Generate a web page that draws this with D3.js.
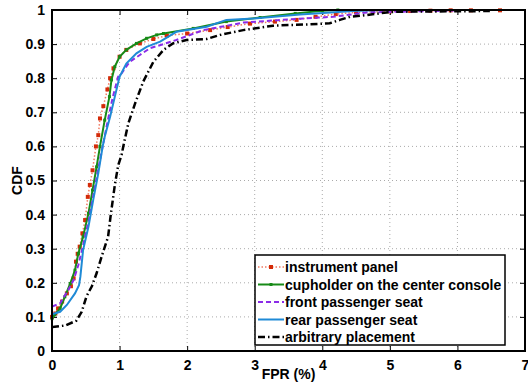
<!DOCTYPE html>
<html>
<head>
<meta charset="utf-8">
<script src="https://cdn.jsdelivr.net/npm/d3@7"></script>
<style>
	body { margin: 0; background: #fff; }
	text { font-family: "Liberation Sans", Arial, sans-serif; font-weight: bold; }
</style>
</head>
<body>
<script>
// CDF samples, [FPR %, CDF]
var instrumentPanel = [[0,0.10],[0.05,0.11],[0.09,0.125],[0.15,0.145],[0.22,0.169],[0.28,0.19],[0.32,0.213],[0.355,0.262],[0.38,0.285],[0.41,0.306],[0.45,0.345],[0.49,0.384],[0.53,0.452],[0.56,0.487],[0.6,0.53],[0.65,0.6],[0.685,0.633],[0.71,0.682],[0.76,0.718],[0.82,0.767],[0.86,0.8],[0.91,0.829],[1.0,0.863],[1.1,0.883],[1.3,0.902],[1.5,0.915],[1.7,0.925],[2.0,0.931],[2.34,0.941],[2.6,0.95],[2.93,0.96],[3.3,0.966],[3.62,0.971],[3.9,0.98],[4.2,0.988],[4.5,0.993],[4.75,0.995],[5.0,0.996],[5.3,0.997],[5.6,0.998],[5.9,0.999],[6.2,0.999],[6.63,0.999]];
var cupholder = [[0,0.095],[0.04,0.106],[0.12,0.125],[0.19,0.159],[0.27,0.198],[0.34,0.237],[0.39,0.286],[0.46,0.335],[0.54,0.404],[0.6,0.472],[0.66,0.54],[0.71,0.6],[0.78,0.677],[0.85,0.746],[0.88,0.795],[0.93,0.834],[1.0,0.863],[1.1,0.883],[1.25,0.902],[1.4,0.917],[1.55,0.927],[1.65,0.931],[2.09,0.946],[2.58,0.966],[3.08,0.978],[3.6,0.99],[4.0,0.998],[4.23,1.0]];
var frontSeat = [[0,0.13],[0.12,0.14],[0.24,0.179],[0.32,0.208],[0.39,0.252],[0.46,0.31],[0.54,0.38],[0.61,0.455],[0.68,0.53],[0.75,0.6],[0.82,0.67],[0.9,0.745],[0.98,0.805],[1.03,0.814],[1.08,0.829],[1.15,0.848],[1.3,0.868],[1.45,0.888],[1.65,0.9],[1.84,0.912],[2.24,0.941],[2.83,0.963],[3.62,0.974],[4.16,0.98],[4.66,0.993],[5.9,0.998],[6.0,1.0]];
var rearSeat = [[0,0.108],[0.12,0.115],[0.22,0.135],[0.34,0.169],[0.4,0.193],[0.42,0.218],[0.44,0.257],[0.46,0.296],[0.54,0.365],[0.61,0.443],[0.685,0.521],[0.75,0.6],[0.78,0.628],[0.86,0.687],[0.93,0.746],[1.0,0.804],[1.1,0.843],[1.25,0.873],[1.4,0.892],[1.6,0.907],[1.84,0.936],[2.29,0.951],[2.58,0.971],[2.98,0.975],[3.67,0.987],[4.46,0.997],[4.9,1.0]];
var arbitrary = [[0,0.07],[0.04,0.071],[0.2,0.075],[0.36,0.089],[0.44,0.115],[0.51,0.16],[0.59,0.19],[0.66,0.228],[0.735,0.277],[0.83,0.335],[0.87,0.4],[0.93,0.487],[0.98,0.545],[1.03,0.575],[1.055,0.6],[1.13,0.668],[1.23,0.726],[1.35,0.79],[1.5,0.848],[1.65,0.883],[1.79,0.902],[1.99,0.912],[2.29,0.915],[2.49,0.927],[2.83,0.941],[3.27,0.954],[3.82,0.958],[4.11,0.961],[4.26,0.971],[4.41,0.98],[4.66,0.985],[4.95,0.993],[5.1,0.995],[6.48,0.997]];

var legendLabels = ['instrument panel', 'cupholder on the center console', 'front passenger seat', 'rear passenger seat', 'arbitrary placement'];
var xTicks = [0, 1, 2, 3, 4, 5, 6, 7];
var yTicks = [0, 0.1, 0.2, 0.3, 0.4, 0.5, 0.6, 0.7, 0.8, 0.9, 1];

var series = [
	{ data: instrumentPanel, color: '#f07a62', width: 1.5, dash: '1.5,2', marker: '#d42a08', markerSize: 4 },
	{ data: cupholder, color: '#178a17', width: 2, dash: null, marker: '#178a17', markerSize: 3 },
	{ data: frontSeat, color: '#8b2be8', width: 2, dash: '5,3', marker: null },
	{ data: rearSeat, color: '#1f8ad6', width: 2, dash: null, marker: null },
	{ data: arbitrary, color: '#000000', width: 2.5, dash: '7,3,1.5,3', marker: null }
];

var width = 528, height = 383;
var margin = { left: 52, right: 3, top: 10, bottom: 32 };
var plotW = width - margin.left - margin.right,
	plotH = height - margin.top - margin.bottom,
	tickLen = 5,
	fontSize = '14px';

var svg = d3.select('body').append('svg')
	.attr('width', width)
	.attr('height', height);

var x = d3.scaleLinear().domain([0, 7]).range([0, plotW]);
var y = d3.scaleLinear().domain([0, 1]).range([plotH, 0]);

var g = svg.append('g').attr('transform', 'translate(' + margin.left + ',' + margin.top + ')');

// dotted grid
g.selectAll('.gx').data(xTicks.slice(1, -1)).enter().append('line')
	.attr('x1', function (d) { return x(d); }).attr('x2', function (d) { return x(d); })
	.attr('y1', 0).attr('y2', plotH)
	.attr('stroke', '#aaa').attr('stroke-width', 1).attr('stroke-dasharray', '1,3');
g.selectAll('.gy').data(yTicks.slice(1, -1)).enter().append('line')
	.attr('y1', function (d) { return y(d); }).attr('y2', function (d) { return y(d); })
	.attr('x1', 0).attr('x2', plotW)
	.attr('stroke', '#aaa').attr('stroke-width', 1).attr('stroke-dasharray', '1,3');

// axes, ticks pointing inwards on all four sides
var xAxis = d3.axisBottom(x).tickValues(xTicks).tickSize(-tickLen).tickPadding(9).tickFormat(d3.format('d'));
var yAxis = d3.axisLeft(y).tickValues(yTicks).tickSize(-tickLen).tickPadding(7).tickFormat(function (d) { return d === 0 || d === 1 ? d : d3.format('.1f')(d); });
var xAxisEl = g.append('g').attr('transform', 'translate(0,' + plotH + ')').call(xAxis);
var yAxisEl = g.append('g').call(yAxis);
g.append('g').call(d3.axisTop(x).tickValues(xTicks).tickSize(-tickLen).tickFormat(''));
g.append('g').attr('transform', 'translate(' + plotW + ',0)').call(d3.axisRight(y).tickValues(yTicks).tickSize(-tickLen).tickFormat(''));
g.selectAll('.domain').remove();
g.selectAll('.tick line').attr('stroke', '#000').attr('stroke-width', 1);
[xAxisEl, yAxisEl].forEach(function (a) {
	a.selectAll('text').attr('fill', '#000').style('font-size', fontSize).style('font-weight', 'bold');
});

// curves
var line = d3.line().x(function (d) { return x(d[0]); }).y(function (d) { return y(d[1]); });
series.forEach(function (s) {
	g.append('path').datum(s.data)
		.attr('fill', 'none')
		.attr('stroke', s.color)
		.attr('stroke-width', s.width)
		.attr('stroke-dasharray', s.dash)
		.attr('d', line);
	if (s.marker) {
		g.selectAll(null).data(s.data).enter().append('rect')
			.attr('x', function (d) { return x(d[0]) - s.markerSize / 2; })
			.attr('y', function (d) { return y(d[1]) - s.markerSize / 2; })
			.attr('width', s.markerSize).attr('height', s.markerSize)
			.attr('fill', s.marker);
	}
});

// plot box
g.append('rect').attr('width', plotW).attr('height', plotH)
	.attr('fill', 'none').attr('stroke', '#000').attr('stroke-width', 2);

// legend
var legend = g.append('g').attr('transform', 'translate(203,245)');
legend.append('rect').attr('width', 250).attr('height', 90)
	.attr('fill', '#fff').attr('stroke', '#000').attr('stroke-width', 1.5);
legendLabels.forEach(function (label, i) {
	var s = series[i], ly = 12 + i * 17.5;
	legend.append('line').attr('x1', 3).attr('x2', 29).attr('y1', ly).attr('y2', ly)
		.attr('stroke', s.color).attr('stroke-width', s.width).attr('stroke-dasharray', s.dash);
	if (s.marker) {
		legend.append('rect').attr('x', 16 - s.markerSize / 2).attr('y', ly - s.markerSize / 2)
			.attr('width', s.markerSize).attr('height', s.markerSize).attr('fill', s.marker);
	}
	legend.append('text').attr('x', 30).attr('y', ly + 5)
		.style('font-size', fontSize).text(label);
});

// axis titles
svg.append('text').attr('x', margin.left + plotW / 2).attr('y', 379)
	.attr('text-anchor', 'middle').style('font-size', fontSize).text('FPR (%)');
svg.append('text').attr('transform', 'translate(22,' + (margin.top + plotH / 2) + ') rotate(-90)')
	.attr('text-anchor', 'middle').style('font-size', fontSize).text('CDF');
</script>
</body>
</html>
